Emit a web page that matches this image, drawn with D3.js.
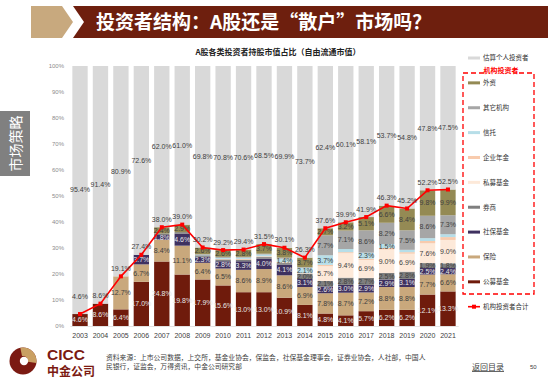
<!DOCTYPE html>
<html>
<head>
<meta charset="utf-8">
<script src="https://cdn.jsdelivr.net/npm/d3@7"></script>
<style>
  body { margin: 0; background: #fff; }
  svg { display: block; }
  text { font-family: "Liberation Sans", Arial, "Noto Sans CJK SC", sans-serif; }
  .cjk { font-family: "Noto Sans CJK SC", "Liberation Sans", sans-serif; }
</style>
</head>
<body>
<svg id="chart" width="550" height="384"></svg>
<script>

// CHART DATA
var years = ['2003','2004','2005','2006','2007','2008','2009','2010','2011','2012','2013','2014','2015','2016','2017','2018','2019','2020','2021'];
var publicFund     = [4.6, 8.6, 6.4, 17.0, 24.8, 19.8, 17.9, 15.6, 13.0, 13.0, 10.9, 8.1, 4.8, 4.1, 5.7, 6.2, 6.2, 12.1, 13.3];
var insurance      = [0, 0, 12.7, 6.7, 8.4, 11.1, 6.4, 6.5, 8.6, 8.9, 8.6, 6.9, 7.8, 8.7, 7.2, 8.8, 8.8, 7.7, 6.6];
var socialSecurity = [0, 0, 0, 3.7, 1.8, 4.6, 2.3, 2.8, 3.3, 4.0, 4.1, 3.1, 2.6, 3.0, 2.9, 2.9, 3.1, 2.5, 2.4];
var brokers        = [0, 0, 0, 0, 0.6, 0.6, 0.6, 0.7, 0.6, 0.6, 0.6, 2.0, 2.1, 2.8, 2.7, 2.5, 2.8, 1.9, 1.8];
var privateFund    = [0, 0, 0, 0, 0, 0, 0, 0, 0, 0, 0, 0, 5.7, 9.4, 6.9, 9.0, 6.9, 7.6, 9.0];
var annuity        = [0, 0, 0, 0, 0, 0, 0, 0.2, 0.3, 0.3, 0.3, 0.2, 0.5, 0.4, 0.5, 0.6, 0.6, 0.9, 1.1];
var trust          = [0, 0, 0, 0, 0, 0, 0.2, 0.4, 0.5, 0.7, 1.4, 2.1, 3.7, 1.2, 2.3, 1.5, 0.9, 1.1, 1.1];
var otherInst      = [0, 0, 0, 0, 0, 0, 0.2, 0.4, 0.3, 0.3, 0.4, 0.2, 7.7, 7.1, 8.6, 8.2, 7.5, 8.6, 7.3];
var foreign        = [0, 0, 0, 0, 2.4, 2.9, 2.6, 2.6, 2.8, 3.7, 3.8, 3.7, 2.7, 3.2, 5.1, 6.6, 8.4, 9.8, 9.9];
var individual     = [95.4, 91.4, 80.9, 72.6, 62.0, 61.0, 69.8, 70.8, 70.6, 68.5, 69.9, 73.7, 62.4, 60.1, 58.1, 53.7, 54.8, 47.8, 47.5];
var totalInst      = [4.6, 8.6, 19.1, 27.4, 38.0, 39.0, 30.2, 29.2, 29.4, 31.5, 30.1, 26.3, 37.6, 39.9, 41.9, 46.3, 45.2, 52.2, 52.5];

// NAMES (STACK ORDER, BOTTOM TO TOP)
var instNames = ['公募基金','保险','社保基金','券商','私募基金','企业年金','信托','其它机构','外资'];
var individualName = '估算个人投资者';
var totalName = '机构投资者合计';
var yTicks = [0, 10, 20, 30, 40, 50, 60, 70, 80, 90, 100];

// TEXTS
var pageTitle = '投资者结构：A股还是“散户”市场吗？';
var chartTitle = 'A股各类投资者持股市值占比（自由流通市值）';
var sideTab = '市场策略';
var boxTitle = '机构投资者';
var sourceLines = ['资料来源：上市公司数据，上交所，基金业协会，保监会，社保基金理事会，证券业协会，人社部，中国人',
                   '民银行，证监会，万得资讯，中金公司研究部'];
var backLink = '返回目录';
var pageNo = '50';

// STYLE SETTINGS
var settings = {
   left: 69.8, right: 458.2, top: 66, bottom: 326,
   colors: {
      '公募基金': '#6f1b0c', '保险': '#c9a87c', '社保基金': '#3f3160', '券商': '#7f7f7f',
      '私募基金': '#fde9d9', '企业年金': '#f8cbad', '信托': '#b7dee8', '其它机构': '#a6a6a6',
      '外资': '#948a54', '估算个人投资者': '#d9d9d9'
   },
   lightText: { '公募基金': true, '社保基金': true },
   red: '#ff0000',
   brown: '#6e1f0e',
   tan: '#c8a97e',
   text: '#404040'
}

var svg = d3.select('#chart');
var fmt = (v) => { return v.toFixed(1) + '%' }

// BUILD ROWS FOR STACKING
var series = [publicFund, insurance, socialSecurity, brokers, privateFund, annuity, trust, otherInst, foreign];
var rows = years.map((y, i) => {
   var row = { year: y };
   instNames.forEach((n, k) => { row[n] = series[k][i] });
   row[individualName] = individual[i];
   return row;
});
var keys = instNames.concat([individualName]);
var stacked = d3.stack().keys(keys)(rows);

// SCALES
var xScale = d3.scaleBand()
   .domain(years)
   .range([settings.left, settings.right])
   .paddingInner(0.25)
   .paddingOuter(0.125)

var yScale = d3.scaleLinear()
   .domain([0, 100])
   .range([settings.bottom, settings.top])

// HEADER BANNER
function header() {
   svg.append('path')
      .attr('fill', settings.tan)
      .attr('d', 'M31,6 L62,6 L73,22 L62,38 L31,38 Z')
   svg.append('path')
      .attr('fill', settings.brown)
      .attr('d', 'M73,6 L548,6 L548,38 L73,38 L84,22 Z')
   svg.append('text')
      .attr('class', 'cjk')
      .attr('x', 96).attr('y', 29)
      .attr('fill', '#fff')
      .attr('font-size', 19)
      .attr('font-weight', 'bold')
      .text(pageTitle)

   // SIDE TAB
   svg.append('rect')
      .attr('x', 0).attr('y', 111).attr('width', 30).attr('height', 65)
      .attr('fill', '#808080')
   svg.append('text')
      .attr('class', 'cjk')
      .attr('transform', 'translate(21,143.5) rotate(-90)')
      .attr('text-anchor', 'middle')
      .attr('fill', '#fff')
      .attr('font-size', 14)
      .text(sideTab)
}

// STACKED BARS
function bars() {
   svg.append('text')
      .attr('class', 'cjk')
      .attr('x', 278).attr('y', 55)
      .attr('text-anchor', 'middle')
      .attr('font-size', 8)
      .attr('font-weight', 'bold')
      .attr('fill', '#222')
      .text(chartTitle)

   // Y AXIS
   var yAxis = svg.append('g')
      .attr('transform', 'translate(66,0)')
      .call(d3.axisLeft(yScale).tickValues(yTicks).tickSize(0).tickPadding(2).tickFormat((d) => { return d + '%' }))
   yAxis.select('.domain').remove()
   yAxis.selectAll('text')
      .attr('font-size', 6)
      .attr('fill', '#8c8c8c')
      .attr('font-family', '"Liberation Sans", Arial, sans-serif')

   // X AXIS
   var xAxis = svg.append('g')
      .attr('transform', 'translate(0,' + settings.bottom + ')')
      .call(d3.axisBottom(xScale).tickSize(0).tickPadding(7))
   xAxis.select('.domain').attr('stroke', '#d0d0d0').attr('stroke-width', 0.6)
   xAxis.selectAll('text')
      .attr('font-size', 7)
      .attr('fill', '#404040')
      .attr('font-family', '"Liberation Sans", Arial, sans-serif')

   var layers = svg.append('g').selectAll('g')
      .data(stacked)
         .enter().append('g')
            .attr('fill', (d) => { return settings.colors[d.key] })

   layers.selectAll('rect')
      .data((d) => { return d })
         .enter().append('rect')
            .attr('x', (d) => { return xScale(d.data.year) })
            .attr('width', xScale.bandwidth())
            .attr('y', (d) => { return yScale(d[1]) })
            .attr('height', (d) => { return yScale(d[0]) - yScale(d[1]) })

   // SEGMENT LABELS
   stacked.forEach((layer) => {
      var key = layer.key;
      var shown = layer.filter((d) => { return (d[1] - d[0]) >= 1.2 });
      svg.append('g').selectAll('text')
         .data(shown)
            .enter().append('text')
               .attr('x', (d) => { return xScale(d.data.year) + xScale.bandwidth() / 2 })
               .attr('y', (d) => { return (yScale(d[0]) + yScale(d[1])) / 2 })
               .attr('dy', '0.35em')
               .attr('text-anchor', 'middle')
               .attr('font-size', 7)
               .attr('fill', settings.lightText[key] ? '#e6e6e6' : settings.text)
               .text((d) => { return fmt(d[1] - d[0]) })
   });
}

// TOTAL INSTITUTION LINE
function totals() {
   var cx = (d, i) => { return xScale(years[i]) + xScale.bandwidth() / 2 }
   var pathify = d3.line()
      .x(cx)
      .y((d) => { return yScale(d) })

   svg.append('path')
      .attr('fill', 'none')
      .attr('stroke', settings.red)
      .attr('stroke-width', 1.6)
      .attr('d', pathify(totalInst))

   svg.append('g').selectAll('rect')
      .data(totalInst)
         .enter().append('rect')
            .attr('x', (d, i) => { return cx(d, i) - 2 })
            .attr('y', (d) => { return yScale(d) - 2 })
            .attr('width', 4).attr('height', 4)
            .attr('fill', settings.red)

   svg.append('g').selectAll('text')
      .data(totalInst)
         .enter().append('text')
            .attr('x', cx)
            .attr('y', (d, i) => { return yScale(d) - (i === 0 ? 17 : 8) })
            .attr('dy', '0.35em')
            .attr('text-anchor', 'middle')
            .attr('font-size', 7)
            .attr('fill', settings.text)
            .text((d) => { return fmt(d) })
}

// LEGEND
function legend() {
   var items = [individualName].concat(instNames.slice().reverse()).concat([totalName]);
   var ly = d3.scalePoint().domain(items).range([58, 306.7]);

   // DASHED BOX
   svg.append('rect')
      .attr('x', 463).attr('y', 73).attr('width', 71).attr('height', 221)
      .attr('fill', 'none')
      .attr('stroke', settings.red)
      .attr('stroke-width', 1.3)
      .attr('stroke-dasharray', '5,3')
   svg.append('rect')
      .attr('x', 484).attr('y', 68).attr('width', 34).attr('height', 9)
      .attr('fill', '#fff')
   svg.append('text')
      .attr('class', 'cjk')
      .attr('x', 501).attr('y', 71).attr('dy', '0.35em')
      .attr('text-anchor', 'middle')
      .attr('font-size', 7)
      .attr('font-weight', 'bold')
      .attr('fill', settings.red)
      .text(boxTitle)

   var g = svg.append('g').selectAll('g')
      .data(items)
         .enter().append('g')
            .attr('transform', (d) => { return 'translate(468,' + ly(d) + ')' })

   g.filter((d) => { return d !== totalName })
      .append('rect')
         .attr('x', 0).attr('y', -1.5).attr('width', 12).attr('height', 3)
         .attr('fill', (d) => { return settings.colors[d] })

   var lineItem = g.filter((d) => { return d === totalName });
   lineItem.append('line')
      .attr('x1', 0).attr('x2', 12)
      .attr('stroke', settings.red).attr('stroke-width', 1.6)
   lineItem.append('rect')
      .attr('x', 4).attr('y', -2).attr('width', 4).attr('height', 4)
      .attr('fill', settings.red)

   g.append('text')
      .attr('class', 'cjk')
      .attr('x', 15).attr('dy', '0.35em')
      .attr('font-size', 6.5)
      .attr('fill', '#333')
      .text((d) => { return d })
}

// FOOTER WITH LOGO AND SOURCE
function footer() {
   var logo = svg.append('g').attr('transform', 'translate(23,361)');
   logo.append('circle').attr('r', 13.5).attr('fill', '#7b1a12')
   logo.append('path')
      .attr('fill', '#c9a063')
      .attr('d', d3.arc().innerRadius(5).outerRadius(13.5).startAngle(-0.2).endAngle(Math.PI * 0.55)())
   logo.append('circle').attr('cx', 1).attr('cy', 0).attr('r', 4.2).attr('fill', '#fff')

   svg.append('text')
      .attr('x', 47).attr('y', 360)
      .attr('font-size', 15.5).attr('font-weight', 'bold')
      .attr('fill', '#7b1a12')
      .text('CICC')
   svg.append('text')
      .attr('class', 'cjk')
      .attr('x', 47).attr('y', 376)
      .attr('font-size', 12).attr('font-weight', 'bold')
      .attr('fill', '#7b1a12')
      .text('中金公司')

   svg.append('g').selectAll('text')
      .data(sourceLines)
         .enter().append('text')
            .attr('class', 'cjk')
            .attr('x', 106)
            .attr('y', (d, i) => { return 360 + i * 9 })
            .attr('font-size', 6.8)
            .attr('fill', '#404040')
            .text((d) => { return d })

   svg.append('text')
      .attr('class', 'cjk')
      .attr('x', 472).attr('y', 370)
      .attr('font-size', 8)
      .attr('fill', '#404040')
      .attr('text-decoration', 'underline')
      .text(backLink)
   svg.append('text')
      .attr('x', 530).attr('y', 369)
      .attr('font-size', 6)
      .attr('fill', '#404040')
      .text(pageNo)
}

header();
bars();
totals();
legend();
footer();

</script>
</body>
</html>
